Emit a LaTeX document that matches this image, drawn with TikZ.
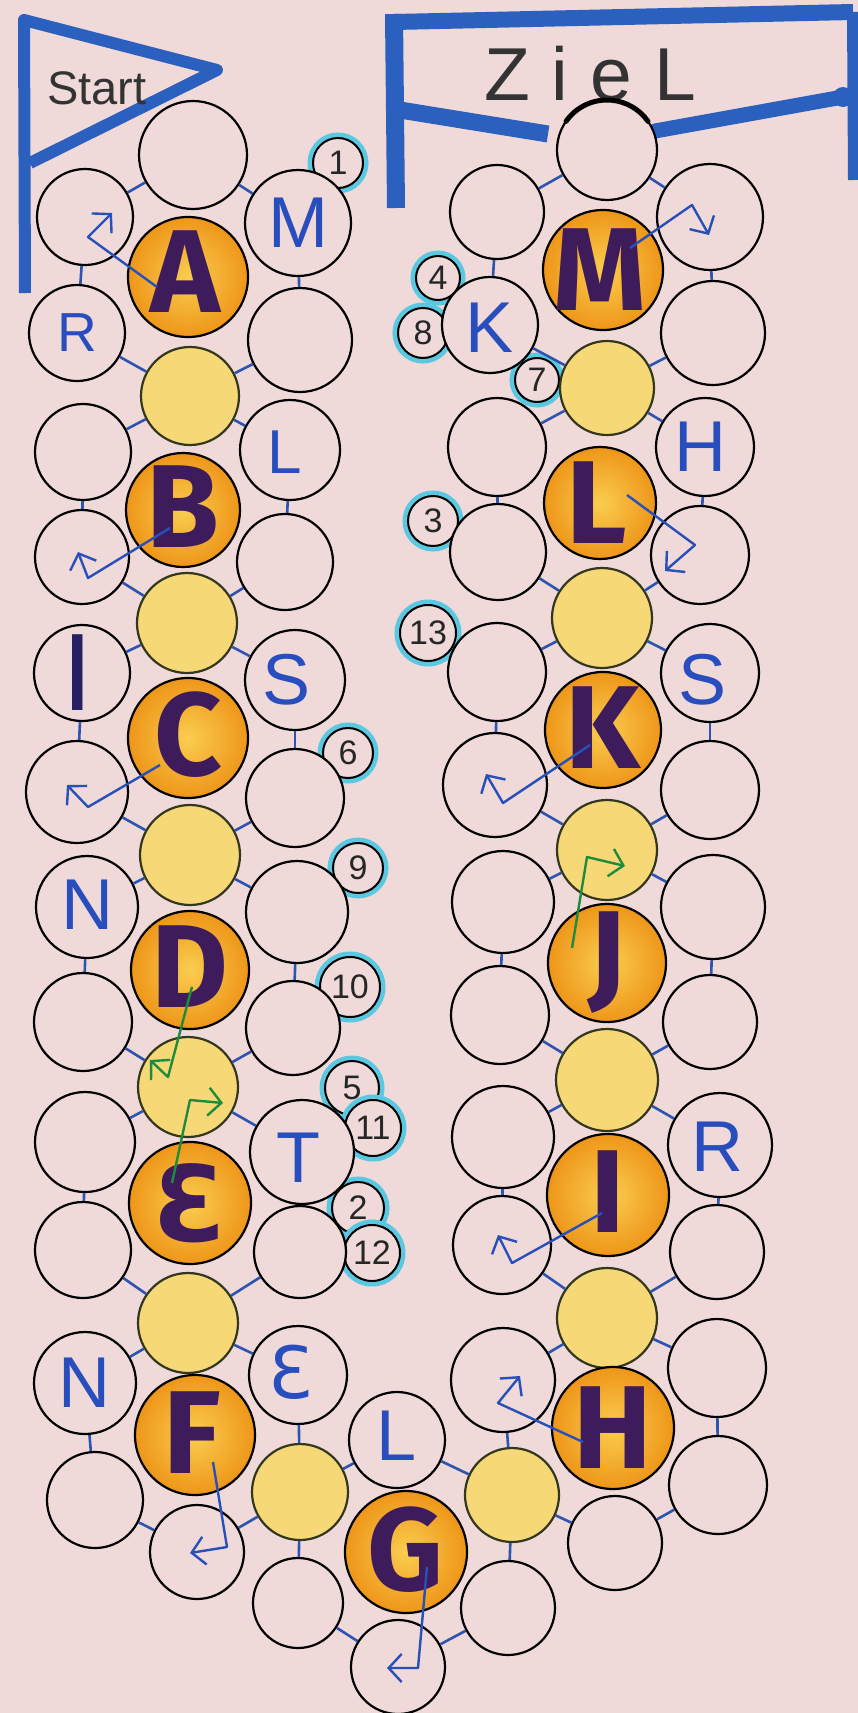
\documentclass[tikz,border=0pt]{standalone}
\usepackage{fontspec}
\usetikzlibrary{arrows.meta}
\newfontfamily\fira{Fira Sans}
\newfontfamily\lib{Liberation Sans}
\newfontfamily\dejavu{DejaVu Sans}
\definecolor{bg}{RGB}{239,217,217}
\definecolor{flagblue}{RGB}{44,96,190}
\definecolor{connblue}{RGB}{45,85,175}
\definecolor{arrblue}{RGB}{40,80,185}
\definecolor{letblue}{RGB}{40,78,190}
\definecolor{purp}{RGB}{62,28,92}
\definecolor{navy}{RGB}{40,30,100}
\definecolor{orin}{RGB}{250,205,80}
\definecolor{orout}{RGB}{238,150,25}
\definecolor{yel}{RGB}{246,216,118}
\definecolor{yelrim}{RGB}{50,55,30}
\definecolor{greenA}{RGB}{30,140,60}
\definecolor{halo}{RGB}{90,200,225}
\newcommand\mkwhite[4]{\node[wc=#4] (#1) at (#2,#3) {};}
\newcommand\mkyellow[4]{\node[yc=#4] (#1) at (#2,#3) {};}
\newcommand\mkorange[4]{\node[oc=#4] (#1) at (#2,#3) {};}
\newcommand\mkbubble[5]{\node[bubble=#4] (#1) at (#2,#3) {}; \node[numt] at (#1) {#5};}
\tikzset{
  wc/.style={circle,draw=black,line width=2.2pt,fill=bg,inner sep=0pt,minimum size=#1*2pt},
  yc/.style={circle,draw=yelrim,line width=2.2pt,fill=yel,inner sep=0pt,minimum size=#1*2pt},
  oc/.style={circle,draw=black,line width=2.2pt,inner color=orin,outer color=orout,inner sep=0pt,minimum size=#1*2pt},
  bubble/.style={circle,draw=black,line width=2pt,fill=bg,inner sep=0pt,minimum size=#1*2pt,
     preaction={draw=halo,line width=11pt}},
  numt/.style={font=\lib\fontsize{34}{34}\selectfont,text=black!85,inner sep=0pt},
  conn/.style={draw=connblue,line width=2.6pt},
  flagline/.style={draw=flagblue,line width=12pt,line join=round},
  bigl/.style={font=\fira\bfseries\fontsize{118}{118}\selectfont,text=purp,inner sep=0pt},
  bigeps/.style={font=\dejavu\bfseries\fontsize{105}{105}\selectfont,text=purp,inner sep=0pt},
  bl/.style={font=\lib\fontsize{72}{72}\selectfont,text=letblue,inner sep=0pt},
  arr/.style={draw=arrblue,line width=2.4pt,line join=round,-{Straight Barb[length=13pt,width=28pt]}},
  garr/.style={arr,draw=greenA},
}
\begin{document}
\begin{tikzpicture}[x=1pt,y=-1pt]
\fill[bg] (0,0) rectangle (858,1713);
\useasboundingbox (0,0) rectangle (858,1713);

% Start flag
\draw[flagline] (25,293) -- (24,20) -- (217,70) -- (30,163);
\node[font=\lib\fontsize{47}{47}\selectfont,text=black!80,inner sep=0pt] (start) at (97,88) {Start};

% Ziel frame
\draw[flagline,line width=18pt] (396,208) -- (394,14);
\draw[flagline,line width=16pt] (394,22) -- (853,12);
\draw[flagline,line width=12pt] (853,12) -- (854,180);
\draw[flagline,line width=17pt] (400,110) -- (548,134);
\draw[flagline,line width=15pt,line cap=round] (655,131) -- (843,97);
\fill[flagblue] (843,97) circle (10);
\node[font=\lib\fontsize{75}{75}\selectfont,text=black!80,anchor=base] (ziel) at (590,100) {Z\hspace{22pt}i\hspace{22pt}e\hspace{22pt}L};

% number bubbles
\mkbubble{b1}{338}{163}{25}{1}
\mkbubble{b8}{423}{333}{25}{8}
\mkbubble{b4}{438}{278}{22}{4}
\mkbubble{b7}{537}{380}{22}{7}
\mkbubble{b3}{433}{521}{25}{3}
\mkbubble{b13}{428}{633}{28}{13}
\mkbubble{b6}{348}{753}{25}{6}
\mkbubble{b9}{358}{868}{25}{9}
\mkbubble{b10}{350}{987}{30}{10}
\mkbubble{b5}{352}{1088}{27}{5}
\mkbubble{b11}{373}{1128}{28}{11}
\mkbubble{b2}{358}{1208}{26}{2}
\mkbubble{b12}{372}{1253}{28}{12}

% left side white circles
\mkwhite{l0}{193}{155}{54}
\mkwhite{l1}{85}{217}{48}
\mkwhite{l2}{298}{223}{53}
\mkwhite{l3}{77}{333}{48}
\mkwhite{l4}{300}{340}{52}
\mkwhite{l5}{83}{452}{48}
\mkwhite{l6}{290}{450}{50}
\mkwhite{l7}{82}{557}{47}
\mkwhite{l8}{285}{562}{48}
\mkwhite{l9}{82}{673}{48}
\mkwhite{l10}{295}{680}{50}
\mkwhite{l11}{77}{792}{51}
\mkwhite{l12}{295}{798}{49}
\mkwhite{l13}{87}{907}{51}
\mkwhite{l14}{297}{912}{51}
\mkwhite{l15}{83}{1022}{49}
\mkwhite{l16}{293}{1028}{47}
\mkwhite{l17}{85}{1142}{50}
\mkwhite{l18}{302}{1152}{52}
\mkwhite{l19}{83}{1250}{48}
\mkwhite{l20}{300}{1252}{46}
\mkwhite{l21}{85}{1383}{51}
\mkwhite{l22}{298}{1375}{49}
\mkwhite{l23}{95}{1500}{48}
\mkwhite{l24}{197}{1552}{47}
\mkwhite{l25}{397}{1440}{48}
\mkwhite{l26}{298}{1603}{45}
\mkwhite{l27}{398}{1667}{47}

% right side white circles
\mkwhite{r0}{607}{150}{50}
\mkwhite{r1}{497}{212}{47}
\mkwhite{r2}{710}{217}{53}
\mkwhite{r3}{490}{325}{48}
\mkwhite{r4}{713}{333}{52}
\mkwhite{r5}{497}{447}{49}
\mkwhite{r6}{705}{447}{49}
\mkwhite{r7}{498}{552}{48}
\mkwhite{r8}{700}{555}{49}
\mkwhite{r9}{497}{672}{49}
\mkwhite{r10}{710}{673}{49}
\mkwhite{r11}{495}{785}{52}
\mkwhite{r12}{710}{790}{49}
\mkwhite{r13}{503}{902}{51}
\mkwhite{r14}{713}{907}{52}
\mkwhite{r15}{500}{1015}{49}
\mkwhite{r16}{710}{1022}{47}
\mkwhite{r17}{503}{1137}{51}
\mkwhite{r18}{720}{1145}{52}
\mkwhite{r19}{502}{1245}{49}
\mkwhite{r20}{717}{1252}{47}
\mkwhite{r21}{503}{1380}{52}
\mkwhite{r22}{717}{1368}{49}
\mkwhite{r23}{508}{1608}{47}
\mkwhite{r24}{615}{1543}{47}
\mkwhite{r25}{718}{1485}{49}

% thick top arc of the Ziel circle
\draw[line width=5pt,line cap=round] (r0.center) ++(215:50) arc[start angle=215,end angle=325,radius=50];

% yellow circles
\mkyellow{y1}{190}{396}{49}
\mkyellow{y2}{187}{623}{50}
\mkyellow{y3}{190}{855}{50}
\mkyellow{y4}{188}{1087}{50}
\mkyellow{y5}{188}{1323}{50}
\mkyellow{y6}{300}{1492}{48}
\mkyellow{y7}{512}{1495}{47}
\mkyellow{z1}{607}{388}{47}
\mkyellow{z2}{602}{618}{50}
\mkyellow{z3}{607}{850}{50}
\mkyellow{z4}{607}{1080}{51}
\mkyellow{z5}{607}{1318}{50}

% orange circles
\mkorange{oA}{188}{277}{60}
\mkorange{oB}{183}{510}{57}
\mkorange{oC}{188}{738}{60}
\mkorange{oD}{190}{970}{59}
\mkorange{oE}{190}{1203}{61}
\mkorange{oF}{195}{1435}{60}
\mkorange{oG}{406}{1552}{61}
\mkorange{oH}{613}{1428}{61}
\mkorange{oI}{608}{1195}{61}
\mkorange{oJ}{607}{963}{59}
\mkorange{oK}{603}{730}{58}
\mkorange{oL}{600}{503}{56}
\mkorange{oM}{603}{270}{60}

% connectors
\foreach \a/\b in {l0/l1,l0/l2,l1/l3,l2/l4,l3/y1,l4/y1,y1/l5,y1/l6,l5/l7,l6/l8,
  l7/y2,l8/y2,y2/l9,y2/l10,l9/l11,l10/l12,l11/y3,l12/y3,y3/l13,y3/l14,
  l13/l15,l14/l16,l15/y4,l16/y4,y4/l17,y4/l18,l17/l19,l18/l20,l19/y5,l20/y5,
  y5/l21,y5/l22,l21/l23,l22/y6,l23/l24,l24/y6,y6/l25,y6/l26,l26/l27,l27/r23,
  r23/y7,l25/y7,y7/r21,y7/r24,r24/r25,r25/r22,r22/z5,r21/z5,z5/r19,z5/r20,
  r19/r17,r18/r20,r17/z4,r18/z4,z4/r15,z4/r16,r15/r13,r16/r14,r13/z3,r14/z3,
  z3/r11,z3/r12,r11/r9,r10/r12,r9/z2,r10/z2,z2/r7,z2/r8,r7/r5,r6/r8,
  r5/z1,r6/z1,z1/r3,z1/r4,r3/r1,r4/r2,r1/r0,r2/r0}
  {\draw[conn] (\a) -- (\b);}

% big letters
\node[bigl] at (185,272) {A};
\node[bigl] at (183,507) {B};
\node[bigl] at (188,735) {C};
\node[bigl] at (190,967) {D};
\node[bigeps] at (190,1203) {Ɛ};
\node[bigl] at (192,1433) {F};
\node[bigl] at (406,1550) {G};
\node[bigl] at (613,1428) {H};
\node[bigl] at (608,1192) {I};
\node[bigl] at (607,963) {J};
\node[bigl] at (603,728) {K};
\node[bigl] at (597,503) {L};
\node[bigl] at (600,270) {M};

% blue letters
\node[bl] at (l2) {M};
\node[bl,font=\lib\fontsize{55}{55}\selectfont] at (l3) {R};
\node[bl,font=\lib\fontsize{62}{62}\selectfont] at (285,452) {L};
\node[bl] at (287,680) {S};
\node[font=\fira\fontsize{110}{110}\selectfont,text=navy,inner sep=0pt] at (78,673) {I};
\node[bl] at (87,905) {N};
\node[bl] at (298,1158) {T};
\node[bl] at (84,1383) {N};
\node[bl,font=\dejavu\fontsize{72}{72}\selectfont] at (291,1372) {Ɛ};
\node[bl] at (397,1436) {L};
\node[bl] at (490,328) {K};
\node[bl] at (700,447) {H};
\node[bl] at (703,680) {S};
\node[bl] at (717,1147) {R};

% arrows
\coordinate (aA1) at (88,237); \coordinate (aA2) at (112,213);
\draw[arr] (157,287) -- (aA1) -- (aA2);
\coordinate (aB1) at (88,578); \coordinate (aB2) at (78,552);
\draw[arr] (170,528) -- (aB1) -- (aB2);
\coordinate (aC1) at (88,807); \coordinate (aC2) at (67,785);
\draw[arr] (160,765) -- (aC1) -- (aC2);
\coordinate (aD1) at (168,1077); \coordinate (aD2) at (150,1060);
\draw[garr] (192,987) -- (aD1) -- (aD2);
\coordinate (aE1) at (190,1100); \coordinate (aE2) at (223,1103);
\draw[garr] (172,1183) -- (aE1) -- (aE2);
\coordinate (aF1) at (227,1547); \coordinate (aF2) at (190,1553);
\draw[arr] (213,1462) -- (aF1) -- (aF2);
\coordinate (aG1) at (418,1668); \coordinate (aG2) at (387,1668);
\draw[arr] (427,1567) -- (aG1) -- (aG2);
\coordinate (aH1) at (498,1403); \coordinate (aH2) at (520,1376);
\draw[arr] (583,1442) -- (aH1) -- (aH2);
\coordinate (aI1) at (512,1263); \coordinate (aI2) at (498,1235);
\draw[arr] (602,1213) -- (aI1) -- (aI2);
\coordinate (aJ1) at (587,857); \coordinate (aJ2) at (625,866);
\draw[garr] (572,948) -- (aJ1) -- (aJ2);
\coordinate (aK1) at (503,803); \coordinate (aK2) at (486,774);
\draw[arr] (590,745) -- (aK1) -- (aK2);
\coordinate (aL1) at (695,545); \coordinate (aL2) at (665,571);
\draw[arr] (627,495) -- (aL1) -- (aL2);
\coordinate (aM1) at (692,205); \coordinate (aM2) at (709,235);
\draw[arr] (630,248) -- (aM1) -- (aM2);
\end{tikzpicture}
\end{document}
